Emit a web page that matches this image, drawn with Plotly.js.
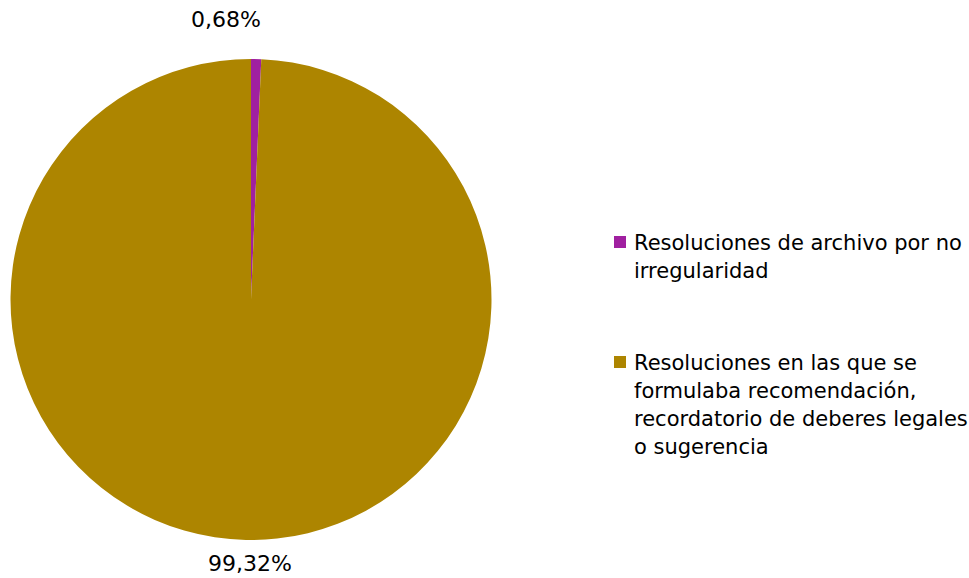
<!DOCTYPE html>
<html>
<head>
<meta charset="utf-8">
<script src="https://cdn.plot.ly/plotly-3.0.1.min.js"></script>
<style>html,body{margin:0;padding:0;background:#fff;}#chart{width:969px;height:578px;}</style>
</head>
<body>
<div id="chart"></div>
<script>
var categories = [
  "Resoluciones de archivo por no<br>irregularidad",
  "Resoluciones en las que se<br>formulaba recomendación,<br>recordatorio de deberes legales<br>o sugerencia"
];
var values = [0.68, 99.32];
var valueLabels = ["0,68%", "99,32%"];
var colors = ["#A020A0", "#AD8500"];

var W = 969, H = 578;
var fontFam = "DejaVu Sans, Verdana, sans-serif";

var trace = {
  type: "pie",
  labels: categories,
  values: values,
  text: valueLabels,
  textinfo: "none",
  sort: false,
  direction: "clockwise",
  rotation: 0,
  marker: {colors: colors, line: {width: 0}},
  domain: {x: [10 / W, 492 / W], y: [1 - 540 / H, 1 - 59 / H]},
  showlegend: false,
  hoverinfo: "label+text"
};

var annotations = [];
var shapes = [];

// Data labels (placed outside the pie, as in the reference)
var labelPos = [[226, 20], [250, 563]];
for (var k = 0; k < valueLabels.length; k++) {
  annotations.push({
    xref: "paper", yref: "paper",
    x: labelPos[k][0] / W, y: 1 - labelPos[k][1] / H,
    xanchor: "center", yanchor: "middle",
    text: valueLabels[k], showarrow: false,
    font: {family: fontFam, size: 22, color: "#000"}
  });
}

// Manual legend (wrapped text, squares)
var legendX = 632, lineH = 28;
var firstLineY = [243, 363];
for (var i = 0; i < categories.length; i++) {
  var lines = categories[i].split("<br>");
  for (var j = 0; j < lines.length; j++) {
    annotations.push({
      xref: "paper", yref: "paper",
      x: legendX / W, y: 1 - (firstLineY[i] + j * lineH) / H,
      xanchor: "left", yanchor: "middle",
      text: lines[j], showarrow: false,
      font: {family: fontFam, size: 21, color: "#000"}
    });
  }
  var cy = firstLineY[i] - 1;
  shapes.push({
    type: "rect", xref: "paper", yref: "paper",
    x0: 614 / W, x1: 626 / W,
    y0: 1 - (cy + 6) / H, y1: 1 - (cy - 6) / H,
    fillcolor: colors[i], line: {width: 0}
  });
}

var layout = {
  width: W, height: H,
  margin: {l: 0, r: 0, t: 0, b: 0},
  paper_bgcolor: "#fff",
  plot_bgcolor: "#fff",
  showlegend: false,
  annotations: annotations,
  shapes: shapes,
  font: {family: fontFam}
};

Plotly.newPlot("chart", [trace], layout, {displayModeBar: false, staticPlot: true});
</script>
</body>
</html>
